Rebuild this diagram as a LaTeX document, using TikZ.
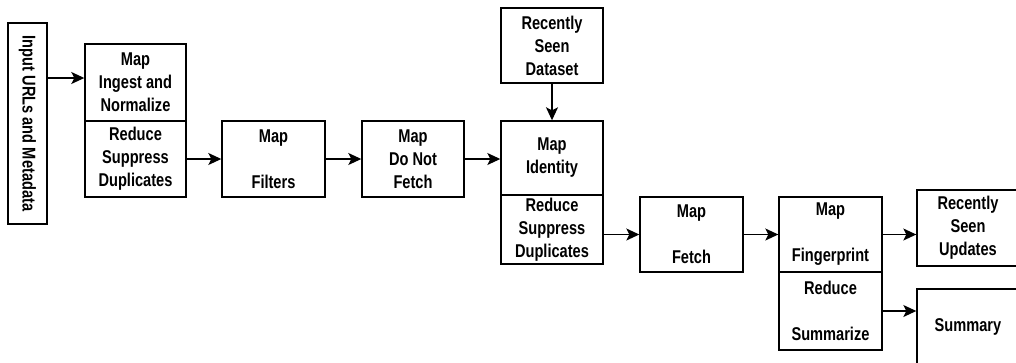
\documentclass[tikz,border=0pt]{standalone}
\usepackage{fontspec}
\setmainfont{Liberation Sans}[FakeStretch=0.79]
\usetikzlibrary{arrows.meta}
\tikzset{
  box/.style={draw, line width=1.4pt, inner sep=0pt, align=center,
    font=\fontsize{18.5}{23}\selectfont\bfseries},
  arr/.style={line width=1.4pt, -{Stealth[length=13pt,width=12pt,inset=3pt]}}
}
\begin{document}
\begin{tikzpicture}[x=1pt,y=-1pt]
\clip (0,0) rectangle (1016,362);
\node[box, minimum width=39pt, minimum height=201pt] (in) at (27.5,123.5) {\rotatebox{-90}{Input URLs and Metadata}};
\node[box, minimum width=101pt, minimum height=77pt] (ing) at (135.5,82.5) {Map\\Ingest and\\Normalize};
\node[box, minimum width=101pt, minimum height=76pt] (sup1) at (135.5,159) {Reduce\\Suppress\\Duplicates};
\node[box, minimum width=103pt, minimum height=76pt] (fil) at (273.5,159) {Map\\~\\Filters};
\node[box, minimum width=102pt, minimum height=76pt] (dnf) at (413,159) {Map\\Do Not\\Fetch};
\node[box, minimum width=102pt, minimum height=75pt] (rsd) at (552,45.5) {Recently\\Seen\\Dataset};
\node[box, minimum width=102pt, minimum height=74pt] (idn) at (552,158) {Map\\Identity};
\node[box, minimum width=102pt, minimum height=69pt] (sup2) at (552,229.5) {Reduce\\Suppress\\Duplicates};
\node[box, minimum width=103pt, minimum height=75pt] (fet) at (691.5,234.5) {Map\\~\\Fetch};
\node[box, minimum width=103pt, minimum height=75pt] (fng) at (830.5,234.5) {Map\\~\\Fingerprint};
\node[box, minimum width=103pt, minimum height=78pt] (sum) at (830.5,311) {Reduce\\~\\Summarize};
\node[box, minimum width=102pt, minimum height=76pt] (rsu) at (968,228) {Recently\\Seen\\Updates};
\node[box, minimum width=102pt, minimum height=76pt] (smy) at (968,327) {Summary};
\coordinate (a1) at ([yshift=4.5pt]ing.west);
\draw[arr] (in.east |- a1) -- (a1);
\draw[arr] (sup1.east) -- (fil.west);
\draw[arr] (fil.east) -- (dnf.west);
\draw[arr] (dnf.east) -- (dnf.east -| idn.west);
\draw[arr] (rsd.south) -- (idn.north);
\draw[arr] (sup2.east |- fet.west) -- (fet.west);
\draw[arr] (fet.east) -- (fng.west);
\draw[arr] (fng.east) -- (fng.east -| rsu.west);
\draw[arr] (sum.east) -- (sum.east -| smy.west);
\end{tikzpicture}
\end{document}
